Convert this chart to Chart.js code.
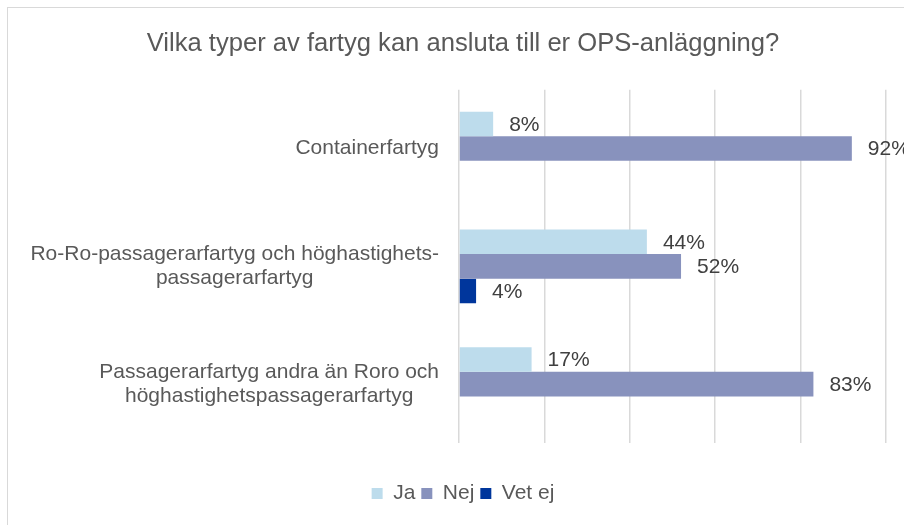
<!DOCTYPE html>
<html>
<head>
<meta charset="utf-8">
<script src="https://cdn.jsdelivr.net/npm/chart.js@4.4.1/dist/chart.umd.min.js"></script>
<style>
  body { margin: 0; overflow: hidden; background: #fff; }
  #frame { position: absolute; left: 7px; top: 7px; width: 920px; height: 530px; border: 1px solid #d9d9d9; }
  canvas { display: block; }
</style>
</head>
<body>
<div id="frame"><canvas id="chart" width="910" height="515"></canvas></div>
<script>
'use strict';

//categories (one array of lines per label)
var categories = [
  ['Containerfartyg'],
  ['Ro-Ro-passagerarfartyg och höghastighets-', 'passagerarfartyg'],
  ['Passagerarfartyg andra än Roro och', 'höghastighetspassagerarfartyg']
];

//series values in percent, null means no answer shown
var jaValues = [8, 44, 17];
var nejValues = [92, 52, 83];
var vetEjValues = [null, 4, null];

var seriesNames = ['Ja', 'Nej', 'Vet ej'];
var seriesColors = ['#BDDCEC', '#8892BD', '#00369C'];

var titleText = 'Vilka typer av fartyg kan ansluta till er OPS-anläggning?';

var fontFamily = '"Liberation Sans", Arial, sans-serif';
var textColor = '#595959';

//draws the percent labels to the right of each bar
var valueLabels = {
  id: 'valueLabels',
  afterDatasetsDraw: function(chart) {
    var ctx = chart.ctx;
    ctx.save();
    ctx.font = '21px ' + fontFamily;
    ctx.fillStyle = '#404040';
    ctx.textAlign = 'left';
    ctx.textBaseline = 'middle';
    chart.data.datasets.forEach(function(ds, i) {
      var meta = chart.getDatasetMeta(i);
      meta.data.forEach(function(bar, j) {
        if (ds.data[j] === null) return;
        ctx.fillText(ds.data[j] + '%', bar.x + 16, bar.y + 1);
      });
    });
    ctx.restore();
  }
};

//category labels: block right aligned, lines centered inside the block
var categoryLabels = {
  id: 'categoryLabels',
  afterDraw: function(chart) {
    var ctx = chart.ctx;
    var yScale = chart.scales.y;
    var rightEdge = chart.chartArea.left - 20;
    ctx.save();
    ctx.font = '21px ' + fontFamily;
    ctx.fillStyle = textColor;
    ctx.textAlign = 'center';
    ctx.textBaseline = 'middle';
    categories.forEach(function(lines, i) {
      var widest = 0;
      lines.forEach(function(line) {
        widest = Math.max(widest, ctx.measureText(line).width);
      });
      var cx = rightEdge - widest / 2;
      var cy = yScale.getPixelForValue(i);
      var lineHeight = 24;
      var startY = cy - (lines.length - 1) * lineHeight / 2;
      lines.forEach(function(line, k) {
        ctx.fillText(line, cx, startY + k * lineHeight);
      });
    });
    ctx.restore();
  }
};

var ctx = document.getElementById('chart').getContext('2d');

new Chart(ctx, {
  type: 'bar',
  data: {
    labels: categories,
    datasets: [
      { label: seriesNames[0], data: jaValues, backgroundColor: seriesColors[0] },
      { label: seriesNames[1], data: nejValues, backgroundColor: seriesColors[1] },
      { label: seriesNames[2], data: vetEjValues, backgroundColor: seriesColors[2] }
    ]
  },
  options: {
    indexAxis: 'y',
    responsive: false,
    animation: false,
    categoryPercentage: 0.625,
    barPercentage: 1,
    layout: { padding: { left: 32, right: 32, top: 0, bottom: 9 } },
    scales: {
      x: {
        min: 0,
        max: 100,
        ticks: { display: false, stepSize: 20 },
        grid: { color: '#d9d9d9', lineWidth: 1.5, drawTicks: false },
        border: { display: false },
        afterFit: function(scale) { scale.height = 34; }
      },
      y: {
        ticks: { display: false },
        grid: { display: false, drawTicks: false },
        border: { display: false },
        afterFit: function(scale) { scale.width = 419; }
      }
    },
    plugins: {
      title: {
        display: true,
        text: titleText,
        color: textColor,
        font: { family: fontFamily, size: 25.6, weight: 'normal' },
        padding: { top: 21, bottom: 30 }
      },
      legend: {
        position: 'bottom',
        labels: {
          color: textColor,
          font: { family: fontFamily, size: 21 },
          boxWidth: 11,
          boxHeight: 11,
          padding: 6
        }
      },
      tooltip: { enabled: false }
    }
  },
  plugins: [valueLabels, categoryLabels]
});
</script>
</body>
</html>
